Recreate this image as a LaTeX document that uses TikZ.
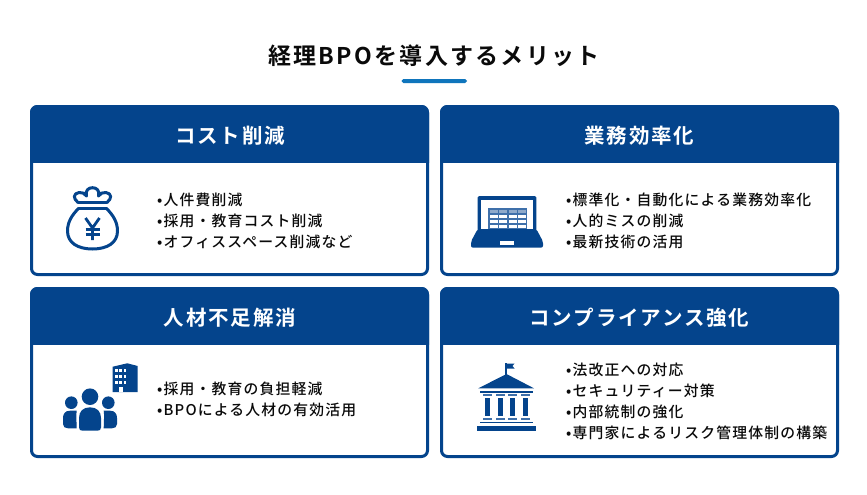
\documentclass[tikz,border=0pt]{standalone}
\usepackage{fontspec}
\newfontfamily\jpm[LetterSpace=8]{Noto Sans CJK JP Medium}
\newfontfamily\jpb[LetterSpace=9]{Noto Sans CJK JP Bold}
\newfontfamily\jpt[LetterSpace=10]{Noto Sans CJK JP Bold}
\definecolor{navy}{HTML}{04448C}
\definecolor{accent}{HTML}{0F75BC}
\definecolor{tablebg}{HTML}{3F70AA}
\definecolor{tablehd}{HTML}{8FAACB}
\definecolor{ink}{HTML}{0A0A0A}
\tikzset{
 card/.style={draw=navy,line width=3pt,fill=white,rounded corners=6pt},
 head/.style={fill=navy,draw=navy,line width=3pt,rounded corners=6pt},
 headtext/.style={text=white,font=\jpb\fontsize{20.5}{20.5}\selectfont,inner sep=0pt,anchor=center},
 bodytext/.style={text=ink,font=\jpm\fontsize{14.82}{14.82}\selectfont,inner sep=0pt,anchor=west},
 bagline/.style={draw=navy,line width=3pt,line join=round,line cap=round}
}
\begin{document}
\begin{tikzpicture}[x=1pt,y=-1pt]
\useasboundingbox (0,0) rectangle (867,495);
\fill[white] (0,0) rectangle (867,495);
\node[text=ink,font=\jpt\fontsize{23}{23}\selectfont,inner sep=0pt] (title) at (434,55.5) {経理BPOを導入するメリット};
\fill[accent,rounded corners=1.8pt] (401.5,79) rectangle (467,83);
% cards
\foreach \x/\y in {31.5/106.5,441.5/106.5,31.5/288.5,441.5/288.5}{
 \draw[card] (\x,\y) rectangle ++(396,168);
 \begin{scope}
 \clip (\x-2,\y-2) rectangle ++(400,57.5);
 \draw[head] (\x,\y) rectangle ++(396,80);
 \end{scope}
}
\node[headtext] (h1) at (230,136) {コスト削減};
\node[headtext] (h2) at (639.5,136) {業務効率化};
\node[headtext] (h3) at (230,318) {人材不足解消};
\node[headtext] (h4) at (639.5,318) {コンプライアンス強化};
% bodies
\node[bodytext] (a1) at (157,200) {•人件費削減};
\node[bodytext] (a2) at (157,221) {•採用・教育コスト削減};
\node[bodytext] (a3) at (157,242) {•オフィススペース削減など};
\node[bodytext] (b1) at (566,200) {•標準化・自動化による業務効率化};
\node[bodytext] (b2) at (566,221) {•人的ミスの削減};
\node[bodytext] (b3) at (566,242) {•最新技術の活用};
\node[bodytext] (c1) at (157,389) {•採用・教育の負担軽減};
\node[bodytext] (c2) at (157,410) {•BPOによる人材の有効活用};
\node[bodytext] (d1) at (566,369.5) {•法改正への対応};
\node[bodytext] (d2) at (566,390.5) {•セキュリティー対策};
\node[bodytext] (d3) at (566,411.5) {•内部統制の強化};
\node[bodytext] (d4) at (566,432.5) {•専門家によるリスク管理体制の構築};
% money bag
\draw[bagline] (78.5,208.5) .. controls (72,215) and (67.5,222) .. (67.5,231)
  .. controls (67.5,243) and (78,249) .. (92.5,249)
  .. controls (107,249) and (117.5,243) .. (117.5,231)
  .. controls (117.5,222) and (113,215) .. (106.5,208.5);
\draw[bagline] (78.5,208.5) -- (106.5,208.5);
\draw[bagline] (78,202.5) -- (107,202.5);
\draw[bagline] (78,202.5) .. controls (73,198.5) and (73,193.5) .. (79,192.5)
  .. controls (82,192) and (85,193.5) .. (86.5,196)
  .. controls (85,190.5) and (88.5,187.7) .. (92.5,187.7)
  .. controls (96.5,187.7) and (100,190.5) .. (98.5,196)
  .. controls (100,193.5) and (103,192) .. (106,192.5)
  .. controls (112,193.5) and (112,198.5) .. (107,202.5);
\draw[navy,line width=2.8pt] (85.5,218) -- (92.5,228) -- (99.5,218) (92.5,228) -- (92.5,240);
\draw[navy,line width=2.2pt] (85.5,229.5) -- (99.5,229.5) (85.5,234.5) -- (99.5,234.5);
% laptop
\fill[navy,rounded corners=1.5pt] (477.7,196) rectangle (536.3,232);
\fill[white] (481,200) rectangle (532.5,229);
\fill[navy,rounded corners=2pt] (477.7,229) -- (536.3,229) -- (543,241.5) -- (543,247.7) -- (471,247.7) -- (471,241.5) -- cycle;
\fill[white] (500,241) rectangle (514,245);
\fill[tablebg] (488.3,208.3) rectangle (526.7,229);
\foreach \cx in {489.7,499.3,509,518.3}{
 \fill[tablehd] (\cx,209.7) rectangle ++(7.8,3);
 \foreach \cy in {215,220,225}{\fill[white] (\cx,\cy) rectangle ++(7.8,3.4);}
}
% people
\fill[navy] (90,396.7) circle (8.3);
\fill[navy] (71.3,402.7) circle (6.3);
\fill[navy] (108.3,402.7) circle (6.3);
\fill[navy] (76.7,410.7) -- (70,410.7) .. controls (65,410.7) and (63,414) .. (63,418) -- (63,424) .. controls (63,427) and (65,428.3) .. (68,428.3) -- (76.7,428.3) .. controls (76.5,420) and (76,415) .. (76.7,410.7) -- cycle;
\fill[navy] (103.7,410.7) -- (110,410.7) .. controls (115,410.7) and (117,414) .. (117,418) -- (117,424) .. controls (117,427) and (115,428.3) .. (112,428.3) -- (103.7,428.3) .. controls (103.9,420) and (104.4,415) .. (103.7,410.7) -- cycle;
\fill[navy] (90,407.3) .. controls (83,407.3) and (79,411.5) .. (79,418) -- (79,427.5) .. controls (79,429.8) and (80.5,430.7) .. (82.5,430.7) -- (97.5,430.7) .. controls (99.5,430.7) and (101,429.8) .. (101,427.5) -- (101,418) .. controls (101,411.5) and (97,407.3) .. (90,407.3) -- cycle;
% building
\fill[navy] (112.7,366.7) -- (127.3,363.3) -- (137.7,366) -- (137.7,392) -- (127.3,392) -- (112.7,392) -- cycle;
\foreach \bx in {115,119.3,123.7}{
 \foreach \by in {369,375,381}{\fill[white] (\bx,\by) rectangle ++(2.6,3);}
}
\fill[white] (118.5,386.5) rectangle (122.5,392);
% temple
\fill[navy] (505.2,363.3) rectangle (506.6,376);
\fill[navy] (506,363.5) -- (514.5,363.5) -- (512.5,366) -- (514.5,368.5) -- (506,368.5) -- cycle;
\fill[navy] (506.5,374) -- (534,388.3) -- (478.3,388.3) -- cycle;
\fill[navy] (479.5,390.8) rectangle (532.5,392.8);
\foreach \k in {0,12.5,25,37.5}{
 \fill[tablebg] (483+\k,394) rectangle ++(9.3,1.7);
 \fill[navy] (485.4+\k,397.7) rectangle ++(4.6,18.3);
 \fill[tablebg] (483+\k,418) rectangle ++(9.3,1.7);
}
\fill[navy] (480,421.7) rectangle (532.7,423.2);
\fill[navy] (476.7,425.7) rectangle (535.7,430.7);
\end{tikzpicture}
\end{document}
